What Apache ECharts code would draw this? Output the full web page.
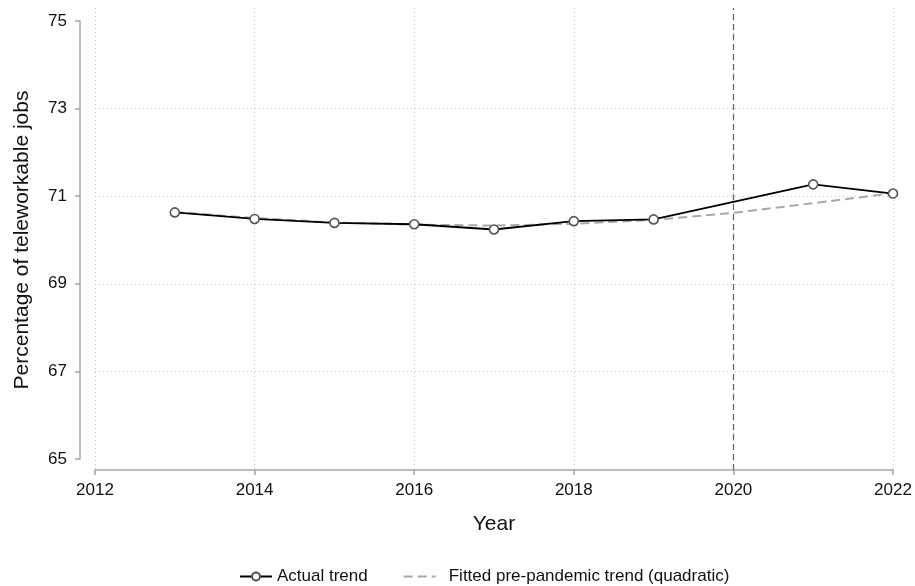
<!DOCTYPE html>
<html>
<head>
<meta charset="utf-8">
<script src="https://cdn.jsdelivr.net/npm/echarts@6/dist/echarts.min.js"></script>
<style>
  html, body { margin: 0; padding: 0; background: #fff; }
  #chart { width: 915px; height: 586px; }
</style>
</head>
<body>
<div id="chart"></div>
<script>
const actualYears = [2013, 2014, 2015, 2016, 2017, 2018, 2019, 2021, 2022];
const actualValues = [70.63, 70.48, 70.39, 70.36, 70.24, 70.43, 70.47, 71.27, 71.06];
const fittedYears = [2013, 2014, 2015, 2016, 2017, 2018, 2019, 2020, 2021, 2022];
const fittedValues = [70.64, 70.50, 70.40, 70.35, 70.33, 70.37, 70.46, 70.62, 70.84, 71.07];
const pandemicYear = 2020;
const yTicks = { min: 65, max: 75, step: 2 };
const xTicks = { min: 2012, max: 2022, step: 2 };

const FONT = 'Liberation Sans';
const axisGray = '#a6a6a6';

const chart = echarts.init(document.getElementById('chart'));

chart.setOption({
  backgroundColor: '#fff',
  animation: false,
  textStyle: { fontFamily: FONT, color: '#111' },
  grid: [
    // data area
    { left: 95, right: 22, top: 21, bottom: 127 },
    // taller plot region for vertical grid lines and the 2020 line
    { left: 95, right: 22, top: 8, bottom: 116 }
  ],
  legend: {
    data: [
      { name: 'Actual trend' },
      {
        name: 'Fitted pre-pandemic trend (quadratic)',
        itemStyle: { opacity: 0 },
        textStyle: { padding: [0, 0, 0, 8] }
      }
    ],
    left: 234,
    top: 563,
    itemWidth: 32,
    itemHeight: 10,
    itemGap: 35,
    textStyle: { fontFamily: FONT, fontSize: 17, color: '#111' }
  },
  xAxis: [
    {
      type: 'value',
      gridIndex: 0,
      min: xTicks.min,
      max: xTicks.max,
      interval: xTicks.step,
      offset: 11,
      name: 'Year',
      nameLocation: 'middle',
      nameGap: 44,
      nameTextStyle: { fontFamily: FONT, fontSize: 21, color: '#111' },
      axisLine: { show: true, lineStyle: { color: axisGray, width: 1.5 } },
      axisTick: { show: true, length: 5, lineStyle: { color: axisGray, width: 1.5 } },
      axisLabel: { fontFamily: FONT, fontSize: 17, color: '#111', margin: 12, formatter: v => String(v) },
      splitLine: { show: false }
    },
    {
      type: 'value',
      gridIndex: 1,
      min: xTicks.min,
      max: xTicks.max,
      interval: xTicks.step,
      axisLine: { show: false },
      axisTick: { show: false },
      axisLabel: { show: false },
      splitLine: { show: true, lineStyle: { color: '#c4c4c4', width: 1, type: [1, 3] } }
    }
  ],
  yAxis: [
    {
      type: 'value',
      gridIndex: 0,
      min: yTicks.min,
      max: yTicks.max,
      interval: yTicks.step,
      offset: 15,
      name: 'Percentage of teleworkable jobs',
      nameLocation: 'middle',
      nameGap: 47,
      nameTextStyle: { fontFamily: FONT, fontSize: 21, color: '#111' },
      axisLine: { show: true, lineStyle: { color: axisGray, width: 1.5 } },
      axisTick: { show: true, length: 5, lineStyle: { color: axisGray, width: 1.5 } },
      axisLabel: { fontFamily: FONT, fontSize: 17, color: '#111', margin: 13 },
      splitLine: {
        show: true,
        showMinLine: false,
        showMaxLine: false,
        lineStyle: { color: '#c4c4c4', width: 1, type: [1, 3] }
      }
    },
    {
      type: 'value',
      gridIndex: 1,
      min: 0,
      max: 1,
      show: false
    }
  ],
  series: [
    {
      name: 'pandemic',
      type: 'line',
      xAxisIndex: 1,
      yAxisIndex: 1,
      data: [],
      silent: true,
      z: 1,
      markLine: {
        silent: true,
        symbol: 'none',
        label: { show: false },
        lineStyle: { color: '#666', width: 1.3, type: [6, 4] },
        data: [{ xAxis: pandemicYear }]
      }
    },
    {
      name: 'Fitted pre-pandemic trend (quadratic)',
      type: 'line',
      xAxisIndex: 0,
      yAxisIndex: 0,
      data: fittedYears.map((y, i) => [y, fittedValues[i]]),
      symbol: 'none',
      z: 3,
      lineStyle: { color: '#a8a8a8', width: 2, type: [9, 5] },
      itemStyle: { color: '#a8a8a8' }
    },
    {
      name: 'Actual trend',
      type: 'line',
      xAxisIndex: 0,
      yAxisIndex: 0,
      data: actualYears.map((y, i) => [y, actualValues[i]]),
      symbol: 'circle',
      symbolSize: 9,
      showSymbol: true,
      z: 4,
      lineStyle: { color: '#000', width: 1.8 },
      itemStyle: { color: '#fff', borderColor: '#555', borderWidth: 1.6 }
    }
  ]
});
</script>
</body>
</html>
